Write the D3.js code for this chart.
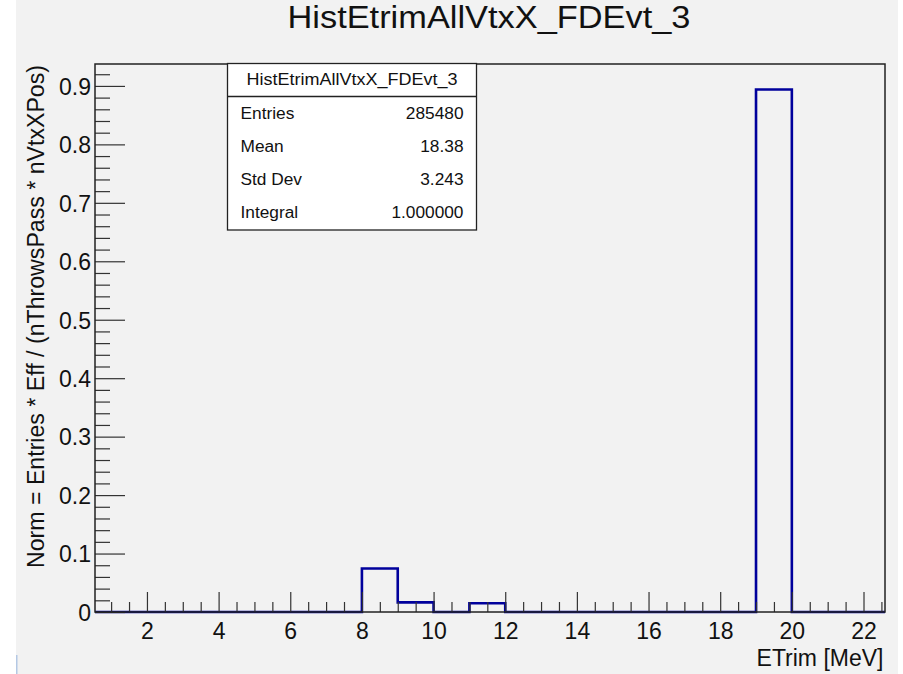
<!DOCTYPE html>
<html>
<head>
<meta charset="utf-8">
<script src="https://cdn.jsdelivr.net/npm/d3@7"></script>
<style>
  html, body { margin: 0; padding: 0; background: #ffffff; }
  svg { display: block; font-family: "Liberation Sans", Arial, Helvetica, sans-serif; }
</style>
</head>
<body>
<svg id="chart" width="903" height="674"></svg>
<script>
// Histogram contents: 1 MeV bins starting at 0 MeV
const binLowEdges = [0, 1, 2, 3, 4, 5, 6, 7, 8, 9, 10, 11, 12, 13, 14, 15, 16, 17, 18, 19, 20, 21, 22];
const binWidth = 1;
const normValues = [0, 0, 0, 0, 0, 0, 0, 0, 0.0745, 0.0165, 0, 0.015, 0, 0, 0, 0, 0, 0, 0, 0.894, 0, 0, 0];

// Axis settings
const xDomain = [0.55, 22.6];
const yDomain = [0, 0.9375];
const xMajorTicks = [2, 4, 6, 8, 10, 12, 14, 16, 18, 20, 22];
const yMajorTicks = [0, 0.1, 0.2, 0.3, 0.4, 0.5, 0.6, 0.7, 0.8, 0.9];
const yTickLabels = ["0", "0.1", "0.2", "0.3", "0.4", "0.5", "0.6", "0.7", "0.8", "0.9"];

// Text
const histTitle = "HistEtrimAllVtxX_FDEvt_3";
const xTitle = "ETrim [MeV]";
const yTitle = "Norm = Entries * Eff / (nThrowsPass * nVtxXPos)";
const statLabels = ["Entries", "Mean", "Std Dev", "Integral"];
const statValues = ["285480", "18.38", "3.243", "1.000000"];

const svg = d3.select("#chart");
const frame = { left: 95, right: 885, top: 64, bottom: 612 };

// Canvas background
svg.append("rect").attr("x", 16).attr("y", 0).attr("width", 882).attr("height", 674).attr("fill", "#f2f2f2");
svg.append("rect").attr("x", 16).attr("y", 655).attr("width", 1.5).attr("height", 19).attr("fill", "#b4c8e4");

const x = d3.scaleLinear().domain(xDomain).range([frame.left, frame.right]);
const y = d3.scaleLinear().domain(yDomain).range([frame.bottom, frame.top]);

// Clip for the histogram line
svg.append("clipPath").attr("id", "frameClip")
  .append("rect")
  .attr("x", frame.left).attr("y", frame.top - 5)
  .attr("width", frame.right - frame.left).attr("height", frame.bottom - frame.top + 10);

// Histogram outline as a step line
const stepPoints = binLowEdges.map((lo, i) => [lo, normValues[i]]);
stepPoints.push([binLowEdges[binLowEdges.length - 1] + binWidth, normValues[normValues.length - 1]]);
const stepLine = d3.line().x(d => x(d[0])).y(d => y(d[1])).curve(d3.curveStepAfter);
svg.append("path")
  .attr("d", stepLine(stepPoints))
  .attr("clip-path", "url(#frameClip)")
  .attr("fill", "none")
  .attr("stroke", "#00009c")
  .attr("stroke-width", 2.6)
  .attr("stroke-linejoin", "miter");

// Tick marks (drawn inside the frame, ROOT style)
const tickColor = "#333";
const xMinorTicks = d3.range(1, 23, 0.5).filter(v => v >= xDomain[0] && v <= xDomain[1] && !xMajorTicks.includes(v));
const yMinorTicks = d3.range(0.02, 0.94, 0.02).map(v => +v.toFixed(2)).filter(v => !yMajorTicks.some(m => Math.abs(m - v) < 1e-9));

const xAxis = d3.axisBottom(x).tickValues(xMajorTicks).tickSizeInner(-20).tickSizeOuter(0).tickPadding(29).tickFormat(d3.format("d"));
const xAxisMinor = d3.axisBottom(x).tickValues(xMinorTicks).tickSizeInner(-10).tickSizeOuter(0).tickFormat("");
const yAxis = d3.axisLeft(y).tickValues(yMajorTicks).tickSizeInner(-30).tickSizeOuter(0).tickPadding(34).tickFormat((d, i) => yTickLabels[i]);
const yAxisMinor = d3.axisLeft(y).tickValues(yMinorTicks).tickSizeInner(-15).tickSizeOuter(0).tickFormat("");

function styleAxis(g) {
  g.select(".domain").remove();
  g.selectAll(".tick line").attr("stroke", tickColor).attr("stroke-width", 1.2);
  g.selectAll(".tick text").attr("fill", "#111").attr("font-size", 23).attr("font-family", "Liberation Sans, Arial, sans-serif");
}

svg.append("g").attr("transform", `translate(0,${frame.bottom})`).call(xAxisMinor).call(styleAxis);
svg.append("g").attr("transform", `translate(0,${frame.bottom})`).call(xAxis).call(styleAxis)
  .selectAll(".tick text").attr("dy", null).attr("y", 26.5);
svg.append("g").attr("transform", `translate(${frame.left},0)`).call(yAxisMinor).call(styleAxis);
svg.append("g").attr("transform", `translate(${frame.left},0)`).call(yAxis).call(styleAxis)
  .selectAll(".tick text").attr("x", -4).attr("dy", "0.36em");

// Frame
svg.append("rect")
  .attr("x", frame.left).attr("y", frame.top)
  .attr("width", frame.right - frame.left).attr("height", frame.bottom - frame.top)
  .attr("fill", "none").attr("stroke", "#222").attr("stroke-width", 1.5);

// Title
svg.append("text")
  .attr("x", 287.5).attr("y", 28)
  .attr("font-size", 30.5).attr("fill", "#111")
  .attr("textLength", 403).attr("lengthAdjust", "spacingAndGlyphs")
  .text(histTitle);

// Axis titles
svg.append("text")
  .attr("x", frame.right - 1.5).attr("y", 666)
  .attr("text-anchor", "end").attr("font-size", 23).attr("fill", "#111")
  .text(xTitle);

svg.append("text")
  .attr("transform", `translate(43.5,${frame.top + 1}) rotate(-90)`)
  .attr("text-anchor", "end").attr("font-size", 23).attr("fill", "#111")
  .attr("textLength", 503).attr("lengthAdjust", "spacingAndGlyphs")
  .text(yTitle);

// Statistics box
const box = { x: 227.5, y: 63.5, w: 249, h: 166.5, header: 33 };
const stats = svg.append("g");
stats.append("rect")
  .attr("x", box.x).attr("y", box.y).attr("width", box.w).attr("height", box.h)
  .attr("fill", "#ffffff").attr("stroke", "#222").attr("stroke-width", 1.3);
stats.append("line")
  .attr("x1", box.x).attr("x2", box.x + box.w)
  .attr("y1", box.y + box.header).attr("y2", box.y + box.header)
  .attr("stroke", "#222").attr("stroke-width", 1.3);
stats.append("text")
  .attr("x", box.x + box.w / 2).attr("y", 85)
  .attr("text-anchor", "middle").attr("font-size", 17).attr("fill", "#111")
  .attr("textLength", 211).attr("lengthAdjust", "spacingAndGlyphs")
  .text(histTitle);

const rowBaselines = [118.5, 151.8, 185, 218.3];
statLabels.forEach((lab, i) => {
  stats.append("text")
    .attr("x", 240.5).attr("y", rowBaselines[i])
    .attr("font-size", 17.3).attr("fill", "#111")
    .text(lab);
  stats.append("text")
    .attr("x", 463.5).attr("y", rowBaselines[i])
    .attr("text-anchor", "end").attr("font-size", 17.3).attr("fill", "#111")
    .text(statValues[i]);
});
</script>
</body>
</html>
